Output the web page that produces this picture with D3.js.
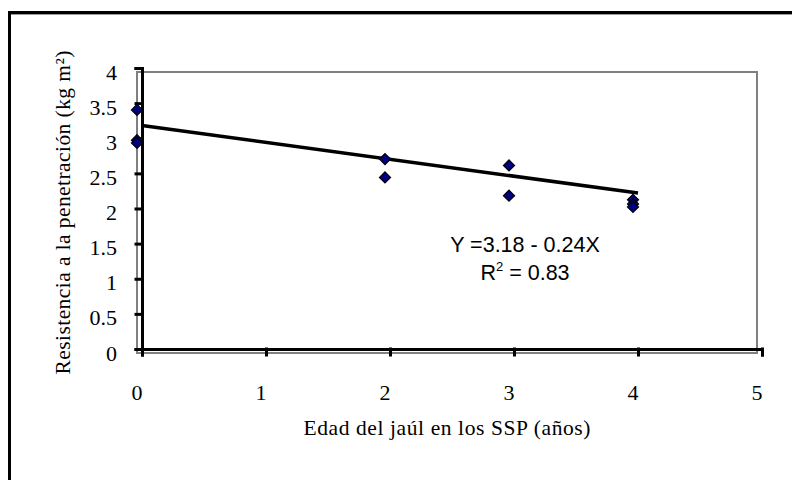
<!DOCTYPE html>
<meta charset="utf-8">
<script src="https://d3js.org/d3.v7.min.js"></script>
<style>
  body { margin: 0; background: #fff; }
</style>
<div id="chart"></div>
<script>
  // data
  var edad = [0, 0, 0, 2, 2, 3, 3, 4, 4, 4];
  var resistencia = [3.46, 3.03, 2.99, 2.76, 2.50, 2.67, 2.24, 2.18, 2.12, 2.08];
  var xTicks = [0, 1, 2, 3, 4, 5];
  var yTicks = [0, 0.5, 1, 1.5, 2, 2.5, 3, 3.5, 4];
  var intercepto = 3.18, pendiente = -0.24;
  var ecuacion = "Y =3.18 - 0.24X";
  var r2 = "0.83";

  var SERIF = "Liberation Serif";
  var SANS = "Liberation Sans";

  var W = 792, H = 480;
  var svg = d3.select("#chart").append("svg")
    .attr("width", W).attr("height", H);

  // outer frame (cropped at right and bottom)
  svg.append("rect")
    .attr("x", 9.5).attr("y", 12.5)
    .attr("width", 900).attr("height", 600)
    .attr("fill", "none").attr("stroke", "#000").attr("stroke-width", 3);
  svg.append("line")
    .attr("x1", 11).attr("x2", W).attr("y1", 14.5).attr("y2", 14.5)
    .attr("stroke", "#999").attr("stroke-width", 1);

  // plot area scales (excel plot box) and overlay scales (black axes)
  var x = d3.scaleLinear().domain([0, 5]).range([137, 757]);
  var y = d3.scaleLinear().domain([0, 4]).range([353, 72]);
  var xb = d3.scaleLinear().domain([0, 5]).range([142, 762]);
  var yb = d3.scaleLinear().domain([0, 4]).range([349, 68]);

  svg.append("rect")
    .attr("x", x(0)).attr("y", y(4))
    .attr("width", x(5) - x(0)).attr("height", y(0) - y(4))
    .attr("fill", "none").attr("stroke", "#808080").attr("stroke-width", 2);

  // black axes
  var gy = svg.append("g").attr("transform", "translate(" + xb(0) + ",0)")
    .call(d3.axisLeft(yb).tickValues(yTicks).tickSize(6).tickFormat(""));
  var gx = svg.append("g").attr("transform", "translate(0," + yb(0) + ")")
    .call(d3.axisBottom(xb).tickValues(xTicks).tickSize(6).tickFormat(""));
  [gx, gy].forEach(function(g) {
    g.selectAll("path, line").attr("stroke", "#000").attr("stroke-width", 3)
      .attr("stroke-linecap", "square");
  });

  // tick labels
  svg.append("g").selectAll("text").data(yTicks).join("text")
    .attr("x", 117).attr("y", function(d) { return y(d) + 7.5; })
    .attr("text-anchor", "end")
    .attr("font-family", SERIF)
    .attr("font-size", 22)
    .text(function(d) { return d; });
  svg.append("g").selectAll("text").data(xTicks).join("text")
    .attr("x", function(d) { return x(d); }).attr("y", 400)
    .attr("text-anchor", "middle")
    .attr("font-family", SERIF)
    .attr("font-size", 22)
    .text(function(d) { return d; });

  // axis titles
  svg.append("text")
    .attr("x", (x(0) + x(5)) / 2).attr("y", 435)
    .attr("text-anchor", "middle")
    .attr("font-family", SERIF)
    .attr("font-size", 21.5)
    .attr("textLength", 287).attr("lengthAdjust", "spacing")
    .text("Edad del jaúl en los SSP (años)");
  svg.append("text")
    .attr("transform", "translate(70," + (y(0) + y(4)) / 2 + ") rotate(-90)")
    .attr("text-anchor", "middle")
    .attr("font-family", SERIF)
    .attr("font-size", 21.5)
    .attr("textLength", 324).attr("lengthAdjust", "spacing")
    .text("Resistencia a la penetración (kg m²)");

  // regression line
  svg.append("line")
    .attr("x1", xb(0)).attr("y1", yb(intercepto))
    .attr("x2", xb(4)).attr("y2", yb(intercepto + pendiente * 4))
    .attr("stroke", "#000").attr("stroke-width", 3.5);

  // markers
  var diamond = d3.symbol().type(d3.symbolDiamond2).size(78);
  svg.append("g").selectAll("path").data(edad).join("path")
    .attr("transform", function(d, i) {
      return "translate(" + x(d) + "," + y(resistencia[i]) + ")";
    })
    .attr("d", diamond)
    .attr("fill", "#000080").attr("stroke", "#000").attr("stroke-width", 1.2);

  // equation
  var eq = svg.append("g")
    .attr("font-family", SANS)
    .attr("font-size", 21.5)
    .attr("text-anchor", "middle");
  eq.append("text").attr("x", 525).attr("y", 252).text(ecuacion);
  var t = eq.append("text").attr("x", 525).attr("y", 280);
  t.append("tspan").text("R");
  t.append("tspan").attr("dy", -9).attr("font-size", 13).text("2");
  t.append("tspan").attr("dy", 9).text(" = " + r2);
</script>
